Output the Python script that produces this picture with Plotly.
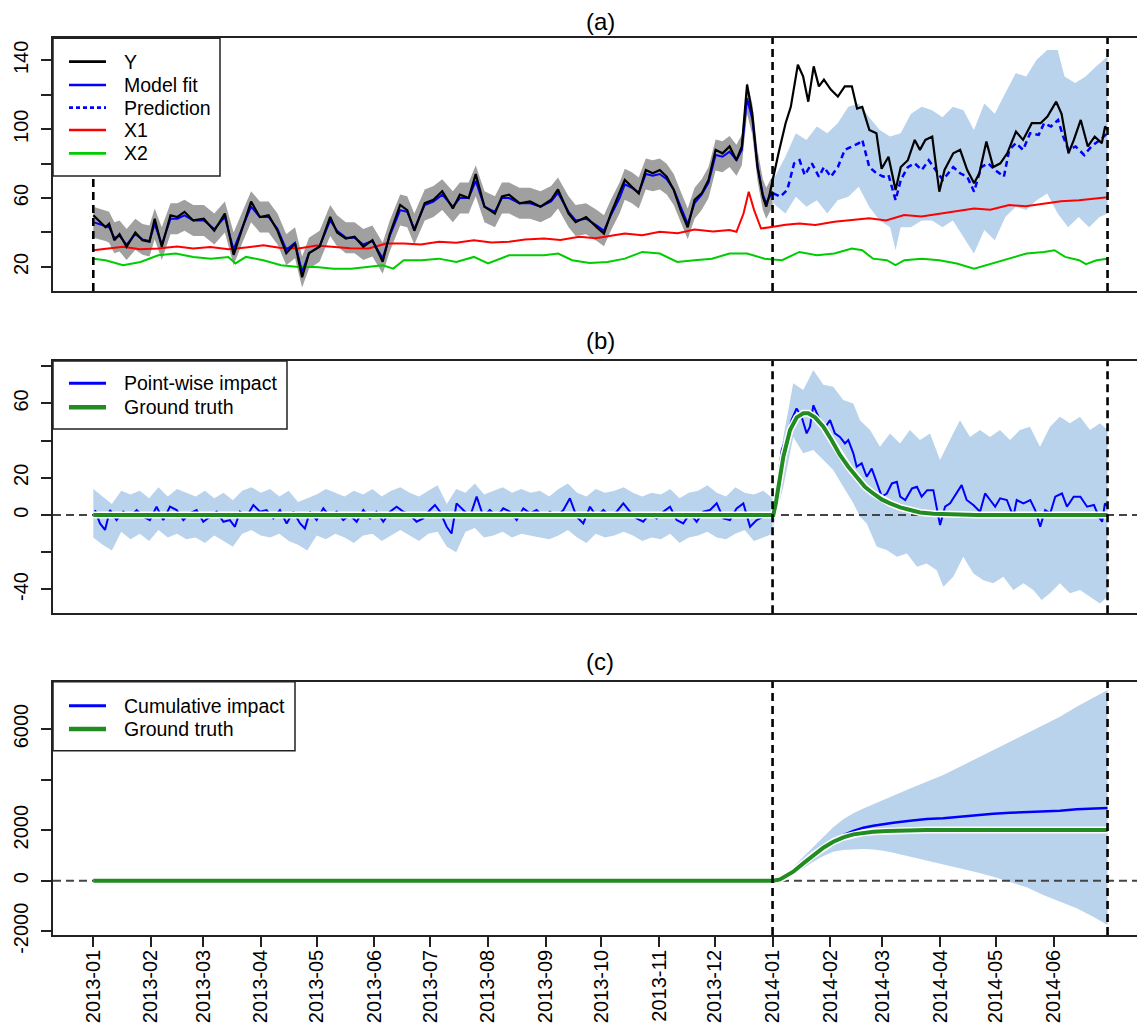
import pandas as pd
import plotly.graph_objects as go

# ---------------------------------------------------------------------------
# Data (x values are days since 2013-01-01)
# ---------------------------------------------------------------------------
START = pd.Timestamp("2013-01-01")
PRE_START, POST_START, POST_END = "2013-01-01", "2014-01-01", "2014-06-30"

# Observed response Y
y_days = [0, 2.8, 6.6, 8.5, 11.3, 14.1, 17.9, 22.6, 26.4, 30.2,
          33, 36.8, 41.5, 45.2, 49, 53.7, 59.4, 65, 70.7, 75.4,
          80.1, 84.8, 89.5, 94.2, 99, 103.7, 108.4, 112.2, 115.9, 121.6,
          127.3, 131, 135.7, 140.4, 145.1, 150, 155.5, 159.3, 164.9, 168.7,
          172.5, 178.1, 182.8, 187.5, 193.2, 197, 201.7, 205.5, 210.2, 215.8,
          219.6, 223.4, 229, 234.7, 240.3, 246, 249.7, 255.4, 259.2, 264.8,
          270.6, 274.4, 278.1, 282.8, 285.6, 289.4, 293.1, 296.9, 300.6, 304.4,
          308.1, 311.9, 315.6, 319.4, 323.1, 326.9, 330.6, 334.4, 338.1, 341.9,
          345.6, 348.5, 351.3, 354.1, 356.9, 359.8, 361.6, 363.5, 365,
          368.2, 372, 374.8, 378.6, 381.4, 384.2, 387.1, 389.9, 392.6, 396.3,
          400.1, 403.8, 407.6, 410.4, 413.2, 417, 420.8, 423.6, 427.3, 431.1,
          433.9, 437.7, 441.4, 444.2, 447.1, 450.8, 454.6, 457.4, 462.1, 465.8,
          469.6, 473.3, 476.1, 479.9, 483.6, 487.4, 491.1, 495.8, 499.6, 504.3,
          509, 512.7, 517.4, 520.3, 524, 526.9, 530.6, 534.4, 538.1, 541.9,
          543.7, 545]
y_obs = [50, 47, 43, 45, 35.5, 39, 31.7, 40, 35.5, 34.6,
         48, 31.7, 50, 49, 52, 47, 48, 41, 51, 27,
         43, 58, 49, 50, 41, 28, 33.6, 14, 28, 31.7,
         49, 40, 36.5, 37.5, 31.7, 35.5, 23, 39, 56, 53,
         41, 57, 59, 64, 54, 62, 60, 74, 55, 51,
         61, 62, 57, 58, 55, 59, 65, 51, 46, 49,
         43, 39.4, 51, 62.7, 70.5, 66.6, 62.7, 76.3, 74.4, 76.3,
         72.4, 64.7, 53, 43, 58.9, 62.7, 70.5, 88, 86, 90,
         82, 90, 126, 109, 78, 60.8, 55, 62.7, 70.5,
         86, 103.5, 113, 137.5, 130.7, 116, 136.5, 124.9, 128.8, 123,
         119, 124.9, 124.9, 112, 113, 99.6, 97.7, 77, 84, 64.7,
         78, 82, 93.8, 88, 93.8, 95.7, 63.7, 76.3, 86, 88,
         76.3, 68.6, 74.4, 92.8, 78, 80.2, 86, 98.6, 93.8, 103.5,
         103.5, 107.4, 116, 109, 86, 93.8, 105.4, 90, 95.7, 91.9,
         101.6, 99.6]

# Model fit over the pre-period (same day grid as the first 89 Y values)
fit_days = y_days[:89]
fit_pre = [46, 45, 44, 43, 37, 38, 33, 39, 36, 35,
           45, 33, 48, 48, 50, 47, 47, 42, 49, 30,
           43, 55, 49, 49, 42, 30, 34, 17, 28, 32,
           47, 41, 37, 37, 33, 35, 25, 38, 53, 52,
           42, 56, 58, 62, 55, 60, 60, 70, 55, 52,
           60, 60, 57, 57, 55, 58, 63, 52, 47, 48,
           44, 41, 50, 60, 68, 66, 63, 74, 73, 74,
           71, 65, 55, 45, 57, 62, 69, 85, 84, 87,
           82, 88, 118, 106, 79, 62, 57, 61, 64]
fit_hi = [55, 54, 53, 52, 46, 47, 42, 48, 45, 44,
          54, 43, 57, 57, 59, 56, 56, 51, 58, 40,
          52, 64, 58, 58, 51, 39, 43, 26, 37, 41,
          56, 50, 46, 46, 42, 44, 34, 47, 62, 61,
          51, 65, 67, 71, 64, 69, 69, 79, 64, 61,
          69, 69, 66, 66, 64, 67, 72, 61, 56, 57,
          53, 50, 59, 69, 77, 75, 72, 83, 82, 83,
          80, 74, 64, 54, 66, 71, 78, 94, 93, 96,
          91, 97, 127, 115, 88, 71, 66, 70, 73]
fit_lo = [37, 36, 35, 34, 28, 29, 24, 30, 27, 26,
          36, 24, 39, 39, 41, 38, 38, 33, 40, 21,
          34, 46, 40, 40, 33, 21, 25, 8, 19, 23,
          38, 32, 28, 28, 24, 26, 16, 29, 44, 43,
          33, 47, 49, 53, 46, 51, 51, 61, 46, 43,
          51, 51, 48, 48, 46, 49, 54, 43, 38, 39,
          35, 32, 41, 51, 59, 57, 54, 65, 64, 65,
          62, 56, 46, 36, 48, 53, 60, 76, 75, 78,
          73, 79, 109, 97, 70, 53, 48, 52, 55]

# Counterfactual prediction over the post-period
pred_days = [365.4, 369.1, 372.9, 376.6, 379.5, 382.3, 386.1, 389.9, 392.6, 396.3,
             400.1, 403.8, 407.6, 411.4, 413.2, 417, 420.8, 424.5, 427.3, 431.1,
             433.9, 437.7, 441.4, 445.2, 448.9, 452.7, 456.5, 462.1, 465.8, 469.6,
             473.3, 477.1, 480.9, 484.6, 489.3, 492.2, 495.8, 499.6, 503.4, 508,
             510.9, 514.6, 518.4, 521.2, 524, 527.8, 532.5, 536.3, 541, 545]
pred = [62.7, 60.8, 64.7, 80.2, 82, 73.4, 80.2, 72.4, 78, 72.4,
        78, 88, 90, 91.9, 93.8, 78, 74.4, 72.4, 73.4, 58.8,
        70.5, 78, 80.2, 76.3, 82, 76.3, 70.5, 78, 74.4, 72.4,
        63.7, 78, 80.2, 76.3, 72.4, 88, 91.9, 88, 97.7, 96.7,
        103.5, 101.6, 105.4, 95.7, 88, 90, 85, 90, 93.8, 97.7]
pred_hi_days = [365.3, 371.9, 377.5, 383.2, 388.8, 394.4, 400, 405.7, 411.3, 416.9,
                422.6, 428.2, 433.8, 439.4, 445.1, 450.7, 456.3, 461.9, 467.6, 473.2,
                478.8, 484.4, 490.1, 495.7, 501.3, 506.9, 512.6, 518.2, 521.9, 527.6,
                533.2, 538.8, 545]
pred_hi = [70.5, 84, 97.7, 93.8, 101.6, 97.7, 103.5, 113, 115, 107,
           99.6, 95.7, 97.7, 109, 113, 111, 107, 113, 111, 99.6,
           115, 109, 121, 132.6, 130.7, 140.4, 146, 146, 130.7, 126.8,
           130.7, 136.5, 142.3]
pred_lo_days = [365.3, 371.9, 377.5, 383.2, 388.8, 394.4, 400, 405.7, 411.3, 416.9,
                422.6, 428.2, 431.1, 433.8, 439.4, 445.1, 450.7, 456.3, 461.9, 467.6,
                473.2, 478.8, 484.4, 490.1, 495.7, 501.3, 506.9, 512.6, 518.2, 523.8,
                529.5, 535.1, 540.7, 545]
pred_lo = [57, 51, 60.8, 55, 58.8, 51, 58.8, 60.8, 66.6, 55,
           47, 43, 29.7, 43, 43, 47, 47, 43, 47, 37.5,
           27.8, 41.4, 35.5, 49, 55, 53, 58.8, 62.7, 51, 43,
           49, 43, 49, 51]

# Covariates
x1_days = [0, 8, 16, 25, 34.9, 45, 53.7, 63, 72.6, 82,
           91.4, 100, 110.3, 120, 129.1, 138, 148, 157.4, 166.8, 176,
           185.7, 195, 204.5, 214, 223.4, 232, 242.2, 251, 261.1, 270,
           285.6, 295, 304.4, 314, 323.1, 333, 341.9, 345.6, 349.4, 352.2,
           355.1, 358.8, 365.4, 372, 379.4, 388, 398.2, 408, 417, 426,
           435.7, 445, 454.6, 464, 473.3, 482, 492.1, 501, 510.9, 520,
           529.7, 538, 545]
x1 = [29.7, 30.9, 31.7, 30.2, 30.7, 31.9, 30.7, 31.5, 30.2, 31.3,
      32.6, 31.2, 30.7, 32.4, 31.7, 30.8, 30.7, 33.6, 33.6, 33.0,
      34.6, 34.0, 35.5, 34.2, 34.6, 35.9, 36.5, 35.6, 37.5, 36.6,
      39.4, 38.4, 40.4, 39.5, 41.7, 40.6, 41.4, 40.4, 51, 63.7,
      53, 42.3, 43.3, 44.5, 45.2, 44.3, 46.2, 47.3, 48.2, 47.0,
      50.1, 49.3, 51, 52.6, 54, 53.2, 56, 55.2, 56.9, 58.1,
      58.8, 59.6, 60.4]
x2_days = [0, 6.6, 16, 25.4, 34.9, 44.3, 53.7, 63.2, 72.6, 76.4,
           82, 91.4, 100.9, 110.3, 119.7, 129.1, 138.5, 148, 155.5, 161.2,
           166.8, 176.3, 185.7, 195.1, 204.5, 212.1, 223.4, 232.8, 242.2, 249.8,
           257.3, 266.7, 276.3, 285.6, 295, 304.4, 313.8, 323.1, 332.5, 341.9,
           351.3, 360.7, 370.1, 379.4, 388.8, 398.2, 407.6, 413.2, 418.9, 426.4,
           431.1, 435.8, 445.2, 454.6, 464, 473.3, 482.7, 492.1, 501.5, 510.9,
           516.5, 522.2, 529.7, 533.4, 539.1, 545]
x2 = [24.8, 23.9, 21, 22.9, 26.8, 27.8, 25.8, 24.8, 25.8, 22,
      25.8, 23.9, 21, 20, 20, 19, 19, 20, 21, 19,
      23.9, 23.9, 24.8, 22.9, 25.8, 22, 26.8, 26.8, 26.8, 27.8,
      23.9, 22.3, 22.9, 24.8, 28.7, 27.8, 22.9, 23.9, 24.8, 27.8,
      27.8, 24.8, 23.9, 28.7, 26.8, 27.8, 30.7, 29.7, 24.8, 23.9,
      21, 23.9, 24.8, 23.9, 22, 19, 22, 24.8, 27.8, 28.7,
      29.7, 25.8, 23.9, 21.6, 23.9, 24.8]

# Point-wise impact
pw_days = [0.9, 3.6, 6.3, 9, 12.5, 16.1, 19.7, 23.3, 26.9, 30.4,
           34, 37.6, 41.2, 44.8, 48.4, 51.9, 55.5, 59.1, 62.7, 66.3,
           69.9, 73.4, 76.1, 78.8, 82.4, 86, 89.6, 93.1, 96.7, 100.3,
           103.9, 107.5, 111.1, 113.7, 116.4, 120, 123.6, 127.2, 130.8, 134.3,
           137.9, 141.5, 145.1, 148.7, 152.2, 155.8, 159.4, 163,
           166.6, 170.2, 173.7, 177.3, 180.9, 183.6, 186.3, 189.9, 192.5, 195.2,
           198.8, 202.4, 206, 209.6, 213.1, 216.7, 220.3, 223.9, 227.5, 231.1,
           234.7, 238.2, 241.8, 245.4, 249, 252.6, 256.1, 259.7, 263.3, 266.9,
           270.5, 274.1, 277.6, 281.2, 284.8, 288.4, 292, 295.5, 299.1, 302.7,
           306.3, 309.9, 313.5, 317, 320.6, 324.2, 327.8, 331.4, 335, 338.6,
           342.1, 345.7, 349.3, 352.9, 356.5, 360.1, 363.7,
           365.4, 367.2, 369.9, 372.6, 375.2, 377.9, 380.6, 383.3, 385.1, 386.9,
           389.6, 392.3, 395.9, 398.5, 401.2, 403.9, 405.7, 408.4, 410.2, 412.9,
           415.6, 418.3, 421.1, 423.7, 426.4, 429.1, 431.8, 433.6, 436.3, 439.9,
           442.6, 445.1, 448.1, 451.4, 455, 457.7, 460.4, 463.9, 466.6, 469.3,
           472.9, 476.5, 479.2, 481.9, 484.6, 487.3, 490.9, 494.4, 496.2, 499.8,
           503.5, 506.1, 508.8, 511.5, 514.2, 516.9, 520.5, 523.2, 526.8, 530.4,
           534, 537.7, 540.3, 542.1, 543.6, 545]
pw_impact = [2.7, -4.5, -8, 2.7, -2.7, 1.8, -0.9, 2.7, -0.9, -2.7,
             4.5, -2.7, 4.5, 2.7, -2.7, 0.9, 2.7, -3.6, -0.9, 1.8,
             -3.6, -2.7, -6.3, 1.8, -0.9, 5.4, 1.8, 2.7, -1.8, 2.7,
             -4.5, 1.8, -4.5, -7.2, 1.8, -2.7, 3.6, -0.9, 1.8, -2.7,
             0, -3.6, 2.7, -1.8, 1.8, -3.6, 1.8, 4.5,
             1.8, 0, -3.6, -1.8, 2.7, 5.4, 1.8, -6.3, -9.9, 6.3,
             2.7, -0.9, 9.9, -0.9, 2.7, -0.9, 3.6, 1.8, -2.7, 3.6,
             0.9, 2.7, -0.9, 1.8, -0.9, 2.7, 9, -0.9, -4.5, 4.5,
             -0.9, 2.7, -0.9, 1.8, 6.3, 1.8, -1.8, -3.6, 0.9, -1.8,
             1.8, 4.5, -2.7, -4.5, 0.9, -3.6, 1.8, 2.7, 6.3, -1.8,
             -2.7, 3.6, 6.3, -6.3, -2.7, -0.9, 0,
             0, 13.4, 35, 42, 51, 57.3, 52.9, 43.9, 47.5, 59,
             52.9, 45.7, 51, 43.9, 42, 38.5, 40.3, 33.2, 26, 27.8,
             20.6, 25, 17, 9.9, 11.6, 17, 17.9, 9.9, 8.1, 14.3,
             15.2, 9.9, 13.4, 13.4, -5.4, 4.5, 6.3, 11.6, 16.1, 8.1,
             5.4, 1.8, 11.6, 8.1, 4.5, 9, 8.1, -0.9, 8.1, 6.3,
             8.1, 2.7, -6.3, 2.7, 0.9, 9.9, 11.6, 4.5, 9.9, 9.9,
             4.5, 5.4, -0.9, -3.6, 6.3, 4.5]
pw_pre_band_days = list(range(0, 366, 5))
pw_pre_hi = [14, 10, 6, 13, 11, 13, 9, 15, 10, 14,
             12, 10, 13, 9, 12, 8, 13, 15, 12, 14,
             10, 13, 7, 9, 11, 14, 12, 10, 13, 11,
             14, 10, 13, 15, 12, 10, 13, 16, 6, 14,
             12, 17, 11, 13, 15, 12, 14, 12, 13, 10,
             14, 17, 12, 10, 14, 12, 13, 15, 12, 10,
             12, 11, 14, 9, 12, 13, 16, 12, 10, 15,
             12, 11, 13, 9]
pw_pre_lo = [-12, -16, -19, -9, -13, -10, -14, -8, -12, -10,
             -13, -12, -15, -11, -14, -17, -10, -8, -11, -12,
             -10, -14, -16, -19, -11, -13, -10, -12, -15, -11,
             -10, -14, -11, -8, -11, -14, -10, -9, -17, -20,
             -9, -7, -12, -11, -9, -12, -10, -11, -12, -13,
             -11, -8, -12, -15, -10, -12, -11, -9, -11, -14,
             -12, -13, -10, -15, -12, -11, -9, -12, -13, -10,
             -8, -14, -12, -10]
pw_hi_days = [365.4, 370.8, 376.1, 381.5, 386.9, 392.3, 397.6, 403, 408.4, 412,
              417.4, 422.7, 428.1, 433.5, 438.8, 444.2, 449.6, 455, 460.3, 465.7,
              471.1, 476.4, 481.8, 487.2, 492.6, 497.9, 503.3, 508.7, 514.1, 519.4,
              524.8, 530.2, 535.6, 540.9, 545]
pw_hi = [9, 42, 70.8, 67.2, 78, 70, 69, 61.8, 60, 51,
         45.7, 36.7, 43.9, 38.5, 45.7, 40.3, 43.9, 29.6, 40.3, 51,
         42, 45.7, 42, 45.7, 40.3, 45.7, 47.5, 36.7, 47.5, 52.9,
         49.3, 52.9, 45.7, 49.3, 45.7]
pw_lo_days = [365.4, 370.8, 376.1, 381.5, 386.9, 392.3, 397.6, 403, 408.4, 412,
              415.6, 421, 426.4, 431.8, 437.2, 442.6, 447.8, 453.2, 456.8, 462.1,
              467.5, 472.9, 478.3, 483.6, 489, 494.4, 499.8, 505.1, 509.6, 514.1,
              519.4, 524.8, 530.2, 535.6, 540.9, 545]
pw_lo = [-6.3, 15.2, 42, 33.2, 35, 29.6, 24.2, 15.2, 6.3, -0.9,
         -4.5, -17, -18.8, -22.4, -20.6, -27.8, -26, -29.6, -38.5, -33.2,
         -22.4, -31.4, -35, -36.7, -33.2, -40.3, -36.7, -40.3, -45.7, -42,
         -36.7, -42, -40.3, -43.9, -47.5, -43.9]
truth_days = [0, 365.4, 366.7, 368.1, 370.8, 374.4, 378, 381.5, 384.2, 387.8,
              392.3, 396.7, 401.2, 405.7, 410.2, 414.6, 419.1, 423.6, 428.1, 433.6,
              439, 444.3, 451.4, 462.1, 474.6, 545]
truth = [0, 0, 6, 15.2, 31.4, 45.7, 52.5, 54.7, 54.7, 52.5,
         47.5, 40.3, 32.3, 26, 20.6, 15.2, 11.6, 8.4, 6.3, 4.1,
         2.7, 1.4, 0.7, 0.2, 0, 0]

# Cumulative impact
cum_days = [0, 365.4, 370.8, 376.1, 381.5, 386.9, 392.3, 397.6, 403, 408.4,
            413.8, 419.1, 424.5, 429.9, 438.9, 447.8, 456.7, 465.7, 474.6, 483.6,
            492.6, 501.5, 510.4, 519.4, 528.4, 537.3, 545]
cum_impact = [0, 0, 158, 422, 752, 1055, 1345, 1609, 1806, 1965,
              2096, 2176, 2241, 2294, 2373, 2439, 2466, 2532, 2611, 2650,
              2690, 2716, 2716, 2769, 2822, 2861, 2874]
cum_hi = [0, 224, 554, 949, 1345, 1741, 2110, 2426, 2664, 2861,
          3033, 3191, 3362, 3652, 3916, 4180, 4509, 4839, 5169, 5498,
          5828, 6158, 6487, 6883, 7252, 7542]
cum_lo = [0, 92, 264, 488, 752, 976, 1147, 1213, 1239, 1253,
          1239, 1187, 1108, 949, 791, 620, 488, 330, 158, -40,
          -264, -567, -831, -1094, -1424, -1754]
cum_truth_days = [0, 365.4, 369, 372.6, 376.1, 381.5, 386.9, 392.3, 397.6, 403,
                  408.4, 413.8, 419.1, 426.4, 435.4, 447.8, 465.7, 545]
cum_truth = [0, 0, 53, 185, 356, 686, 1015, 1305, 1543, 1714,
             1833, 1899, 1938, 1965, 1991, 2004, 2004, 2004]

month_ticks = pd.date_range("2013-01-01", "2014-06-01", freq="MS")
month_labels = [d.strftime("%Y-%m") for d in month_ticks]

# ---------------------------------------------------------------------------
# Styling
# ---------------------------------------------------------------------------
FONT = "Liberation Sans, Arial, Helvetica, sans-serif"
INK = "#222222"
BAND_BLUE = "rgb(186,211,236)"
BAND_GRAY = "rgb(160,160,160)"
BLUE, RED, GREEN, TRUTH = "#0000FF", "#FF0000", "#00CD00", "#228B22"

W, H = 1137, 1028
L, T, B = 53, 38, 93
PW, PH = W - L, H - T - B


def px(x):
    return (x - L) / PW


def py(y):
    return (H - B - y) / PH


def dates(days):
    return [START + pd.Timedelta(days=float(d)) for d in days]


def band(hi_days, hi, lo_days, lo, color, xa, ya):
    xs = dates(hi_days) + dates(lo_days[::-1])
    ys = list(hi) + list(lo[::-1])
    return go.Scatter(x=xs, y=ys, fill="toself", fillcolor=color, mode="lines",
                      line=dict(width=0, color=color), hoverinfo="skip",
                      showlegend=False, xaxis=xa, yaxis=ya)


def line(days, vals, color, width, xa, ya, dash=None):
    return go.Scatter(x=dates(days), y=vals, mode="lines",
                      line=dict(color=color, width=width, dash=dash),
                      showlegend=False, hoverinfo="skip", xaxis=xa, yaxis=ya)


x_range_days = (-21.65, 560.83)
x_range = dates(x_range_days)

fig = go.Figure()

# Panel (a)
fig.add_trace(band(fit_days, fit_hi, fit_days, fit_lo, BAND_GRAY, "x", "y"))
fig.add_trace(band(pred_hi_days, pred_hi, pred_lo_days, pred_lo, BAND_BLUE, "x", "y"))
fig.add_trace(line(x2_days, x2, GREEN, 2, "x", "y"))
fig.add_trace(line(x1_days, x1, RED, 2, "x", "y"))
fig.add_trace(line(fit_days, fit_pre, BLUE, 2, "x", "y"))
fig.add_trace(line(pred_days, pred, BLUE, 2.5, "x", "y", dash="6px,4px"))
fig.add_trace(line(y_days, y_obs, "black", 2.2, "x", "y"))

# Panel (b)
fig.add_trace(band(pw_pre_band_days, pw_pre_hi, pw_pre_band_days, pw_pre_lo, BAND_BLUE, "x2", "y2"))
fig.add_trace(band(pw_hi_days, pw_hi, pw_lo_days, pw_lo, BAND_BLUE, "x2", "y2"))
fig.add_trace(go.Scatter(x=x_range, y=[0, 0], mode="lines",
                         line=dict(color="#444444", width=2, dash="8px,5px"),
                         showlegend=False, hoverinfo="skip", xaxis="x2", yaxis="y2"))
fig.add_trace(line(pw_days, pw_impact, BLUE, 2, "x2", "y2"))
fig.add_trace(line(truth_days, truth, "white", 7, "x2", "y2"))
fig.add_trace(line(truth_days, truth, TRUTH, 4, "x2", "y2"))

# Panel (c)
fig.add_trace(band(cum_days[1:], cum_hi, cum_days[1:], cum_lo, BAND_BLUE, "x3", "y3"))
fig.add_trace(go.Scatter(x=x_range, y=[0, 0], mode="lines",
                         line=dict(color="#444444", width=2, dash="8px,5px"),
                         showlegend=False, hoverinfo="skip", xaxis="x3", yaxis="y3"))
fig.add_trace(line(cum_days, cum_impact, BLUE, 2.5, "x3", "y3"))
fig.add_trace(line(cum_truth_days, cum_truth, "white", 7, "x3", "y3"))
fig.add_trace(line(cum_truth_days, cum_truth, TRUTH, 4, "x3", "y3"))

# ---------------------------------------------------------------------------
# Axes
# ---------------------------------------------------------------------------
xbase = dict(type="date", range=x_range, showgrid=False, zeroline=False,
             showline=True, linecolor=INK, linewidth=1.6, mirror=True)
ybase = dict(showgrid=False, zeroline=False, showline=True, linecolor=INK,
             linewidth=1.6, ticks="outside", ticklen=10, tickwidth=1.5,
             tickcolor=INK, tickangle=-90, ticklabelstandoff=5,
             tickfont=dict(size=20, color="black"))

fig.update_layout(
    xaxis=dict(**xbase, anchor="y", showticklabels=False, ticks=""),
    xaxis2=dict(**xbase, anchor="y2", matches="x", showticklabels=False, ticks=""),
    xaxis3=dict(**xbase, anchor="y3", matches="x", ticks="outside", ticklen=10,
                tickwidth=1.5, tickcolor=INK, tickvals=list(month_ticks),
                ticktext=month_labels, tickangle=-90, ticklabelstandoff=-5,
                tickfont=dict(size=20, color="black")),
    yaxis=dict(**ybase, domain=[py(291), 1.0], range=[6, 153],
               tickvals=[20, 40, 60, 80, 100, 120, 140],
               ticktext=["20", "", "60", "", "100", "", "140"]),
    yaxis2=dict(**ybase, domain=[py(613.3), py(361)], range=[-52.8, 82.8],
                tickvals=[-40, -20, 0, 20, 40, 60, 80],
                ticktext=["-40", "", "0", "20", "", "60", ""]),
    yaxis3=dict(**ybase, domain=[0.0, py(681.7)], range=[-2148, 7872],
                tickvals=[-2000, 0, 2000, 4000, 6000],
                ticktext=["-2000", "0", "2000", "", "6000"]),
)

# ---------------------------------------------------------------------------
# Intervention markers, legends and panel titles
# ---------------------------------------------------------------------------
shapes = []
vline = dict(color="black", width=2.6, dash="8px,5px")
for yref, marks in (("y domain", (PRE_START, POST_START, POST_END)),
                    ("y2 domain", (POST_START, POST_END)),
                    ("y3 domain", (POST_START, POST_END))):
    for m in marks:
        shapes.append(dict(type="line", xref="x", yref=yref, x0=m, x1=m, y0=0, y1=1,
                           line=vline, layer="above"))

annotations = []


def legend_box(right, bottom, top, rows):
    shapes.append(dict(type="rect", xref="paper", yref="paper", x0=px(L), x1=px(right),
                       y0=py(bottom), y1=py(top), fillcolor="white",
                       line=dict(color=INK, width=1.5), layer="above"))
    for ypix, label, color, width, dash in rows:
        shapes.append(dict(type="line", xref="paper", yref="paper", x0=px(69), x1=px(106),
                           y0=py(ypix), y1=py(ypix),
                           line=dict(color=color, width=width, dash=dash), layer="above"))
        annotations.append(dict(xref="paper", yref="paper", x=px(122), y=py(ypix),
                                text=label, showarrow=False, xanchor="left",
                                yanchor="middle", font=dict(size=19.5, color="black")))


legend_box(220, 176, 38.3, [
    (61.7, "Y", "black", 2.7, None),
    (85, "Model fit", BLUE, 2.7, None),
    (107.7, "Prediction", BLUE, 2.7, "4px,3px"),
    (130, "X1", RED, 2.7, None),
    (153.3, "X2", GREEN, 2.7, None),
])
legend_box(287, 429, 361, [
    (383.3, "Point-wise impact", BLUE, 3, None),
    (407.3, "Ground truth", TRUTH, 4.5, None),
])
legend_box(295, 750.7, 681.7, [
    (705.7, "Cumulative impact", BLUE, 3, None),
    (729, "Ground truth", TRUTH, 4.5, None),
])

for ypix, title in ((21, "(a)"), (340, "(b)"), (661, "(c)")):
    annotations.append(dict(xref="paper", yref="paper", x=px(600), y=py(ypix),
                            text=title, showarrow=False, xanchor="center",
                            yanchor="middle", font=dict(size=24, color="black")))

fig.update_layout(
    width=W, height=H,
    margin=dict(l=L, r=0, t=T, b=B, pad=0),
    paper_bgcolor="white", plot_bgcolor="white",
    font=dict(family=FONT, size=19, color="black"),
    showlegend=False,
    shapes=shapes, annotations=annotations,
)

fig.write_html("out.html")
